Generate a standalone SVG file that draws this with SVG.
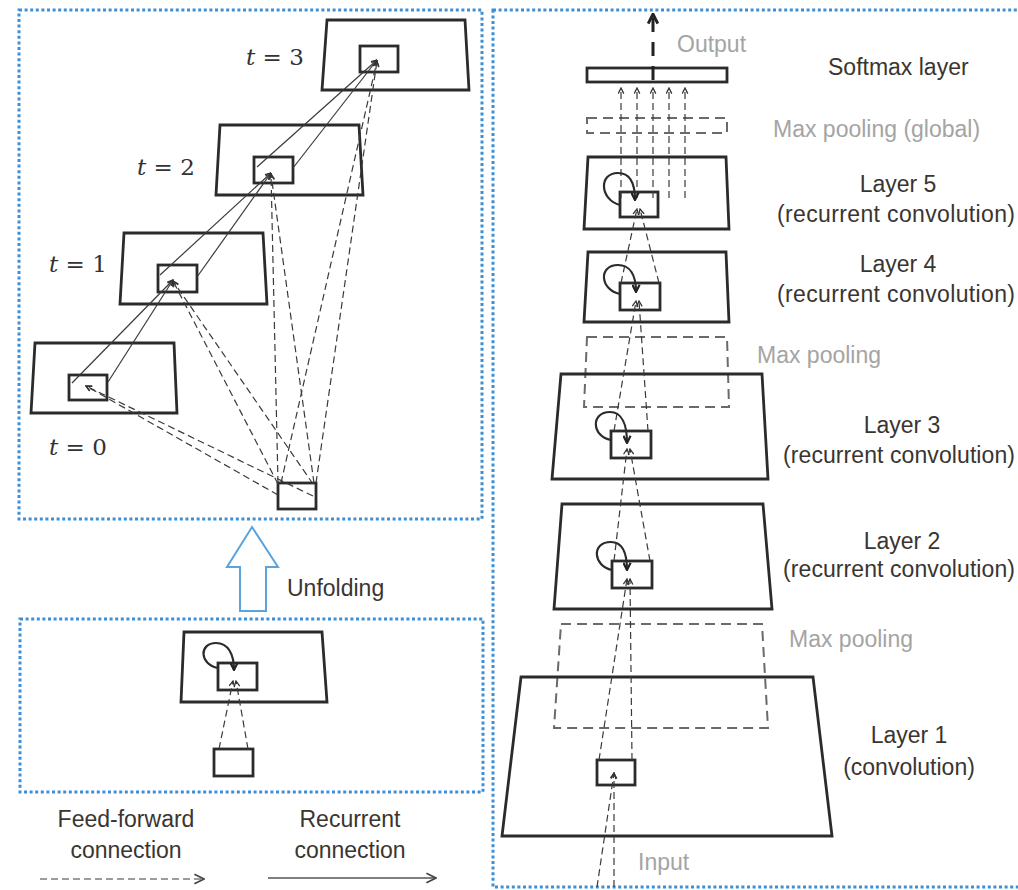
<svg xmlns="http://www.w3.org/2000/svg" width="1018" height="890" viewBox="0 0 1018 890">
<style>
.bg{fill:#fff}
.dot{fill:none;stroke:#3d8fd6;stroke-width:3;stroke-dasharray:3 2.6}
.box{fill:none;stroke:#2b2b2b;stroke-width:2.8;stroke-linejoin:miter}
.ff{fill:none;stroke:#3a3a3a;stroke-width:1.2;stroke-dasharray:7 4}
.rc{fill:none;stroke:#3a3a3a;stroke-width:1.2}
.loop{fill:none;stroke:#2b2b2b;stroke-width:2.2}
.pool{fill:none;stroke:#6a6a6a;stroke-width:2;stroke-dasharray:10 6}
.t{font-family:"Liberation Sans",Arial,sans-serif;font-size:23px;fill:#3a3530}
.g{fill:#a4a4a4}
.m{font-family:"DejaVu Serif",serif;font-size:23px;fill:#333}
</style>
<defs>
<marker id="a" viewBox="0 0 10 10" refX="9" refY="5" markerWidth="7" markerHeight="7" markerUnits="userSpaceOnUse" orient="auto"><path d="M1,1 L9,5 L1,9" fill="none" stroke="#333" stroke-width="1.8"/></marker>
<marker id="lp" viewBox="0 0 10 10" refX="9" refY="5" markerWidth="9" markerHeight="9" markerUnits="userSpaceOnUse" orient="auto"><path d="M1,1 L9,5 L1,9" fill="none" stroke="#222" stroke-width="2.4"/></marker>
<marker id="lg" viewBox="0 0 10 10" refX="9" refY="5" markerWidth="12" markerHeight="12" markerUnits="userSpaceOnUse" orient="auto"><path d="M1,1 L9,5 L1,9" fill="none" stroke="#444" stroke-width="1.4"/></marker>
<marker id="out" viewBox="0 0 10 10" refX="9" refY="5" markerWidth="12" markerHeight="12" markerUnits="userSpaceOnUse" orient="auto"><path d="M1,1 L9,5 L1,9" fill="none" stroke="#222" stroke-width="2.4"/></marker>
</defs>
<rect class="bg" width="1018" height="890"/>

<g id="frames">
<rect class="dot" x="19" y="10" width="463" height="509"/>
<rect class="dot" x="20" y="619" width="463" height="173"/>
<rect class="dot" x="493" y="10" width="600" height="877"/>
</g>

<g id="unfolding">
<path d="M252,527 L278,567 L266,567 L266,611 L240,611 L240,567 L227,567 Z" fill="#fff" stroke="#5ba3dc" stroke-width="2"/>
<text class="t" x="287" y="596">Unfolding</text>
</g>

<g id="t3">
<path class="box" d="M327,20 L465,20 L469,90 L322,90 Z"/>
<rect class="box" x="360" y="46" width="38" height="26"/>
<text class="m" x="246" y="65"><tspan font-style="italic">t</tspan> = 3</text>
</g>
<g id="t2">
<path class="box" d="M220,125 L359,125 L363,195 L216,195 Z"/>
<rect class="box" x="254" y="157" width="39" height="26"/>
<text class="m" x="137" y="175"><tspan font-style="italic">t</tspan> = 2</text>
</g>
<g id="t1">
<path class="box" d="M124,233 L263,233 L267,304 L120,304 Z"/>
<rect class="box" x="158" y="265" width="39" height="27"/>
<text class="m" x="49" y="272"><tspan font-style="italic">t</tspan> = 1</text>
</g>
<g id="t0">
<path class="box" d="M35,343 L174,343 L177,413 L31,413 Z"/>
<rect class="box" x="69" y="375" width="38" height="25"/>
<text class="m" x="49" y="455"><tspan font-style="italic">t</tspan> = 0</text>
</g>
<g id="input-unfolded">
<rect class="box" x="278" y="483" width="38" height="26"/>
</g>

<g id="folded">
<path class="box" d="M184,632 L322,632 L327,702 L181,702 Z"/>
<rect class="box" x="218" y="663" width="39" height="27"/>
<rect class="box" x="214" y="749" width="39" height="27"/>
</g>

<g id="legend">
<text class="t" x="126" y="827" text-anchor="middle">Feed-forward</text>
<text class="t" x="126" y="858" text-anchor="middle">connection</text>
<text class="t" x="350" y="827" text-anchor="middle">Recurrent</text>
<text class="t" x="350" y="858" text-anchor="middle">connection</text>
</g>

<g id="softmax">
<rect class="box" x="587" y="68" width="140" height="14"/>
<text class="t g" x="677" y="52">Output</text>
<text class="t" x="828" y="75">Softmax layer</text>
</g>
<g id="pool-global">
<rect class="pool" x="587" y="118" width="140" height="15"/>
<text class="t g" x="773" y="137">Max pooling (global)</text>
</g>
<g id="layer5">
<path class="box" d="M588,157 L726,157 L729,229 L584,229 Z"/>
<rect class="box" x="620" y="192" width="38" height="25"/>
<text class="t" x="898" y="192" text-anchor="middle">Layer 5</text>
<text class="t" x="777" y="222" textLength="238">(recurrent convolution)</text>
</g>
<g id="layer4">
<path class="box" d="M588,252 L726,252 L729,322 L584,322 Z"/>
<rect class="box" x="620" y="283" width="40" height="27"/>
<text class="t" x="898" y="272" text-anchor="middle">Layer 4</text>
<text class="t" x="777" y="302" textLength="238">(recurrent convolution)</text>
</g>
<g id="pool2">
<path class="pool" d="M587,337 L727,337 L729,407 L584,407 Z"/>
<text class="t g" x="757" y="363">Max pooling</text>
</g>
<g id="layer3">
<path class="box" d="M561,374 L762,374 L768,479 L552,479 Z"/>
<rect class="box" x="611" y="431" width="40" height="27"/>
<text class="t" x="902" y="433" text-anchor="middle">Layer 3</text>
<text class="t" x="783" y="463" textLength="232">(recurrent convolution)</text>
</g>
<g id="layer2">
<path class="box" d="M562,504 L763,504 L772,609 L554,609 Z"/>
<rect class="box" x="612" y="561" width="40" height="27"/>
<text class="t" x="902" y="549" text-anchor="middle">Layer 2</text>
<text class="t" x="783" y="577" textLength="232">(recurrent convolution)</text>
</g>
<g id="pool1">
<path class="pool" d="M561,624 L762,624 L768,728 L554,728 Z"/>
<text class="t g" x="789" y="647">Max pooling</text>
</g>
<g id="layer1">
<path class="box" d="M521,677 L813,677 L832,836 L502,836 Z"/>
<rect class="box" x="597" y="760" width="38" height="25"/>
<text class="t" x="909" y="743" text-anchor="middle">Layer 1</text>
<text class="t" x="909" y="775" text-anchor="middle">(convolution)</text>
<text class="t g" x="638" y="870">Input</text>
</g>

<g id="connectors">
<line class="rc" x1="72" y1="383" x2="173" y2="280" marker-end="url(#a)"/>
<line class="rc" x1="108" y1="382" x2="173" y2="280" marker-end="url(#a)"/>
<line class="rc" x1="160" y1="275" x2="271" y2="173" marker-end="url(#a)"/>
<line class="rc" x1="197" y1="277" x2="271" y2="173" marker-end="url(#a)"/>
<line class="rc" x1="257" y1="167" x2="377" y2="60" marker-end="url(#a)"/>
<line class="rc" x1="293" y1="168" x2="377" y2="60" marker-end="url(#a)"/>
<line class="ff" x1="278" y1="495" x2="86" y2="386" marker-end="url(#a)"/>
<line class="ff" x1="313" y1="496" x2="86" y2="386" marker-end="url(#a)"/>
<line class="ff" x1="278" y1="484" x2="173" y2="281" marker-end="url(#a)"/>
<line class="ff" x1="313" y1="484" x2="173" y2="281" marker-end="url(#a)"/>
<line class="ff" x1="278" y1="483" x2="271" y2="174" marker-end="url(#a)"/>
<line class="ff" x1="314" y1="483" x2="271" y2="174" marker-end="url(#a)"/>
<line class="ff" x1="281" y1="483" x2="377" y2="61" marker-end="url(#a)"/>
<line class="ff" x1="316" y1="483" x2="377" y2="61" marker-end="url(#a)"/>
<line class="ff" x1="219" y1="749" x2="233" y2="681" marker-end="url(#a)"/>
<line class="ff" x1="248" y1="749" x2="236" y2="681" marker-end="url(#a)"/>
<path class="loop" d="M218,668 C199,664 199,643 216,643 C228,643 234,654 234,670" marker-end="url(#lp)"/>
<line class="ff" x1="40" y1="879" x2="204" y2="879" marker-end="url(#lg)"/>
<line x1="268" y1="878" x2="436" y2="878" stroke="#555" stroke-width="1.3" marker-end="url(#lg)"/>
<line class="ff" x1="597" y1="887" x2="614" y2="773" marker-end="url(#a)"/>
<line class="ff" x1="614" y1="887" x2="614" y2="773" marker-end="url(#a)"/>
<line class="ff" x1="599" y1="760" x2="627" y2="579" marker-end="url(#a)"/>
<line class="ff" x1="632" y1="760" x2="630" y2="579" marker-end="url(#a)"/>
<line class="ff" x1="614" y1="561" x2="627" y2="449" marker-end="url(#a)"/>
<line class="ff" x1="650" y1="561" x2="630" y2="449" marker-end="url(#a)"/>
<line class="ff" x1="614" y1="431" x2="636" y2="301" marker-end="url(#a)"/>
<line class="ff" x1="648" y1="431" x2="639" y2="301" marker-end="url(#a)"/>
<line class="ff" x1="621" y1="283" x2="637" y2="209" marker-end="url(#a)"/>
<line class="ff" x1="659" y1="283" x2="640" y2="209" marker-end="url(#a)"/>
<line class="ff" x1="621" y1="198" x2="621" y2="88" marker-end="url(#a)"/>
<line class="ff" x1="637" y1="198" x2="637" y2="88" marker-end="url(#a)"/>
<line class="ff" x1="653" y1="198" x2="653" y2="88" marker-end="url(#a)"/>
<line class="ff" x1="669" y1="198" x2="669" y2="88" marker-end="url(#a)"/>
<line class="ff" x1="685" y1="198" x2="685" y2="88" marker-end="url(#a)"/>
<path class="loop" d="M620,205 C600,200 598,173 618,173 C630,173 635,183 635,200" marker-end="url(#lp)"/>
<path class="loop" d="M620,294 C600,290 598,265 618,265 C630,265 636,275 636,292" marker-end="url(#lp)"/>
<path class="loop" d="M611,440 C592,437 590,412 610,412 C622,412 627,425 627,443" marker-end="url(#lp)"/>
<path class="loop" d="M612,570 C593,566 591,542 611,542 C622,542 627,553 627,570" marker-end="url(#lp)"/>
<line x1="653" y1="80" x2="653" y2="14" stroke="#222" stroke-width="3" stroke-dasharray="14 10" marker-end="url(#out)"/>
</g>
</svg>
